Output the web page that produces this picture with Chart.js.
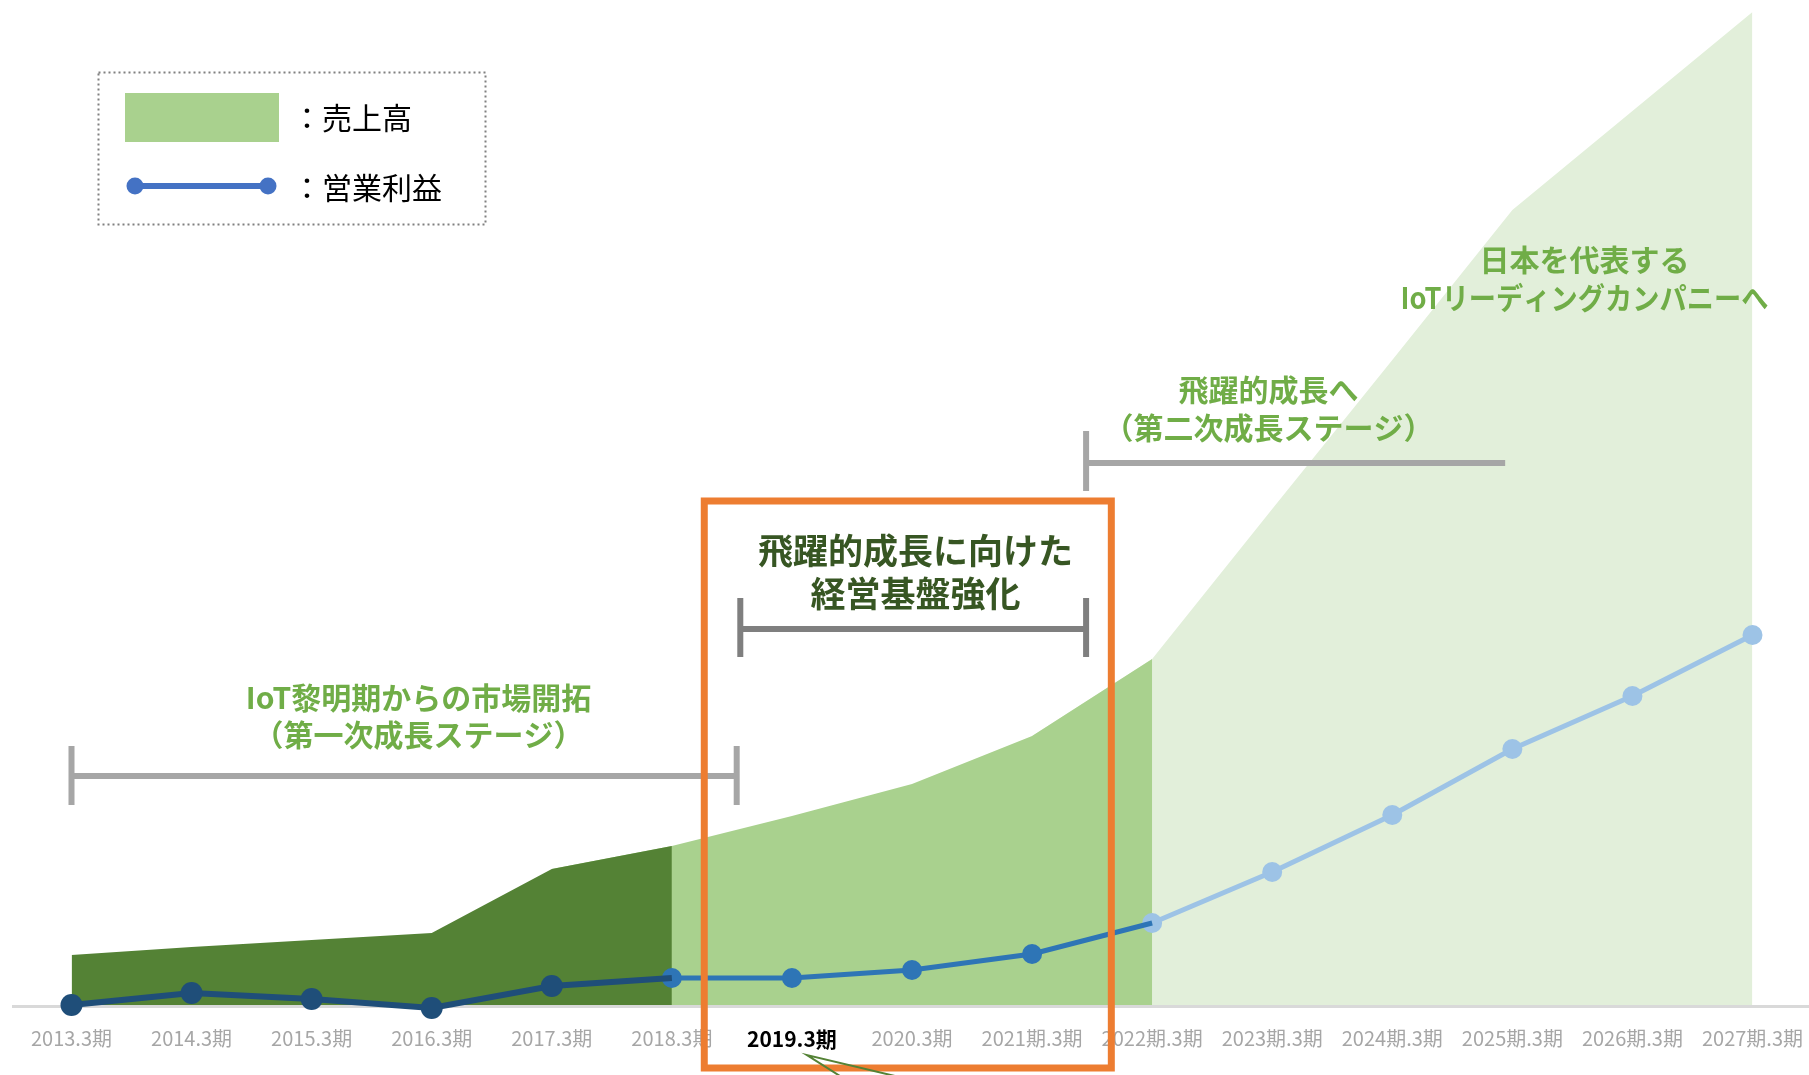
<!DOCTYPE html>
<html lang="ja">
<head>
<meta charset="utf-8">
<title>売上高・営業利益の推移</title>
<script src="https://cdn.jsdelivr.net/npm/chart.js@4.4.1/dist/chart.umd.min.js"></script>
<style>
  html, body { margin: 0; padding: 0; background: #fff; }
</style>
</head>
<body>
<canvas id="chart" width="1809" height="1075"></canvas>
<script>
const periods = [
  '2013.3期', '2014.3期', '2015.3期', '2016.3期', '2017.3期', '2018.3期', '2019.3期',
  '2020.3期', '2021期.3期', '2022期.3期', '2023期.3期', '2024期.3期', '2025期.3期',
  '2026期.3期', '2027期.3期'
];
const currentIndex = 6; // 2019.3期

// 売上高: 実績 / 中期計画 / 長期ビジョン
const salesActual = [5.0, 5.8, 6.5, 7.2, 13.6, 15.9];
const salesPlan = [15.9, 18.9, 22.1, 26.9, 34.6];
const salesVision = [34.6, 49.6, 64.5, 79.5, 89.4, 99.3];

// 営業利益: 実績 / 中期計画 / 長期ビジョン
const profitActual = [0.0, 1.2, 0.6, -0.3, 1.9, 2.7];
const profitPlan = [2.7, 2.7, 3.5, 5.1, 8.2];
const profitVision = [8.2, 13.3, 19.0, 25.6, 30.9, 37.0];

const JP = '"Noto Sans CJK JP", "Noto Sans", sans-serif';

// put a partial series into a full-length array
function place(values, start) {
  const out = periods.map(() => null);
  values.forEach((v, i) => { out[start + i] = v; });
  return out;
}

// each later band also runs one step underneath the previous one,
// so no hairline gap shows where two fills meet
function area(values, start, color, prev, order) {
  const vals = prev ? [prev[prev.length - 2], ...values] : values;
  return {
    type: 'line',
    data: place(vals, prev ? start - 1 : start),
    backgroundColor: color,
    borderWidth: 0,
    pointRadius: 0,
    fill: 'origin',
    tension: 0,
    clip: false,
    order
  };
}

function profitLine(values, start, color, width, radius, hideLast) {
  const lastIdx = start + values.length - 1;
  return {
    type: 'line',
    data: place(values, start),
    borderColor: color,
    backgroundColor: color,
    borderWidth: width,
    pointRadius: ctx => (hideLast && ctx.dataIndex === lastIdx) ? 0 : radius,
    pointBorderWidth: 0,
    pointBackgroundColor: color,
    fill: false,
    tension: 0,
    clip: false,
    order: 1
  };
}

// captions and brackets, placed in (category index, value) units
const stageTexts = [
  { x: 2.89, y: [30.7, 27.0], lines: ['IoT黎明期からの市場開拓', '（第一次成長ステージ）'], color: '#70ad47', size: 30 },
  { x: 7.03, y: [45.4, 41.1], lines: ['飛躍的成長に向けた', '経営基盤強化'], color: '#375623', size: 35 },
  { x: 9.97, y: [61.5, 57.7], lines: ['飛躍的成長へ', '（第二次成長ステージ）'], color: '#70ad47', size: 30 },
  { x: 12.6, y: [74.5, 70.7], lines: ['日本を代表する', 'IoTリーディングカンパニーへ'], color: '#70ad47', size: 30, maxWidth: 368 }
];
const brackets = [
  { from: 0.0, to: 5.54, y: 22.9, top: 25.9, bottom: 20.0, right: true, color: '#a6a6a6' },
  { from: 5.57, to: 8.45, y: 37.6, top: 40.7, bottom: 34.8, right: true, color: '#7f7f7f' },
  { from: 8.45, to: 11.94, y: 54.2, top: 57.4, bottom: 51.4, right: false, color: '#a6a6a6' }
];
const focusBox = { from: 5.27, to: 8.66, top: 50.4, bottom: -6.3 };

const overlay = {
  id: 'overlay',
  beforeDatasetsDraw(chart) {
    const { ctx, scales: { y } } = chart;
    const base = y.getPixelForValue(0);
    ctx.save();
    ctx.strokeStyle = '#d9d9d9';
    ctx.lineWidth = 3;
    ctx.beginPath();
    ctx.moveTo(12, base + 1.5);
    ctx.lineTo(chart.width, base + 1.5);
    ctx.stroke();
    ctx.restore();
  },
  afterDatasetsDraw(chart) {
    const { ctx, scales: { x, y } } = chart;
    const px = v => x.getPixelForValue(v);
    const py = v => y.getPixelForValue(v);
    ctx.save();

    // brackets
    ctx.lineCap = 'butt';
    brackets.forEach(b => {
      ctx.strokeStyle = b.color;
      ctx.lineWidth = 6;
      ctx.beginPath();
      ctx.moveTo(px(b.from), py(b.top));
      ctx.lineTo(px(b.from), py(b.bottom));
      ctx.moveTo(px(b.from), py(b.y));
      ctx.lineTo(px(b.to), py(b.y));
      if (b.right) {
        ctx.moveTo(px(b.to), py(b.top));
        ctx.lineTo(px(b.to), py(b.bottom));
      }
      ctx.stroke();
    });

    // stage captions
    ctx.textAlign = 'center';
    ctx.textBaseline = 'middle';
    stageTexts.forEach(t => {
      ctx.fillStyle = t.color;
      ctx.font = `bold ${t.size}px ${JP}`;
      t.lines.forEach((line, i) => {
        if (t.maxWidth) ctx.fillText(line, px(t.x), py(t.y[i]), t.maxWidth);
        else ctx.fillText(line, px(t.x), py(t.y[i]));
      });
    });

    // current-period frame
    ctx.strokeStyle = '#ed7d31';
    ctx.lineWidth = 7;
    ctx.strokeRect(px(focusBox.from), py(focusBox.top),
      px(focusBox.to) - px(focusBox.from), py(focusBox.bottom) - py(focusBox.top));

    // callout tail under 2019.3期
    const tipX = px(currentIndex) + 15, tipY = py(-5.0);
    ctx.strokeStyle = '#548235';
    ctx.lineWidth = 2;
    ctx.beginPath();
    ctx.moveTo(tipX + 33, tipY + 21);
    ctx.lineTo(tipX, tipY);
    ctx.lineTo(tipX + 88, tipY + 21);
    ctx.stroke();

    // legend
    ctx.setLineDash([2, 3]);
    ctx.strokeStyle = '#808080';
    ctx.lineWidth = 2;
    ctx.strokeRect(98.5, 72.5, 387, 152);
    ctx.setLineDash([]);
    ctx.fillStyle = '#a9d18e';
    ctx.fillRect(125, 93, 154, 49);
    ctx.strokeStyle = '#4472c4';
    ctx.fillStyle = '#4472c4';
    ctx.lineWidth = 6;
    ctx.beginPath();
    ctx.moveTo(135, 186);
    ctx.lineTo(268, 186);
    ctx.stroke();
    [135, 268].forEach(cx => {
      ctx.beginPath();
      ctx.arc(cx, 186, 8.5, 0, Math.PI * 2);
      ctx.fill();
    });
    ctx.fillStyle = '#000';
    ctx.font = `30px ${JP}`;
    ctx.textAlign = 'left';
    ctx.fillText('：売上高', 292, 118);
    ctx.fillText('：営業利益', 292, 188);

    ctx.restore();
  }
};

new Chart(document.getElementById('chart'), {
  type: 'line',
  data: {
    labels: periods,
    datasets: [
      profitLine(profitActual, 0, '#1f4e79', 6, 11, true),
      profitLine(profitPlan, 5, '#2e75b6', 5, 10, true),
      profitLine(profitVision, 9, '#9dc3e6', 5, 10, false),
      area(salesActual, 0, '#548235', null, 2),
      area(salesPlan, 5, '#a9d18e', salesActual, 3),
      area(salesVision, 9, '#e2efda', salesPlan, 4)
    ]
  },
  options: {
    responsive: false,
    animation: false,
    devicePixelRatio: 1,
    layout: { autoPadding: false, padding: { top: 5, left: 71.5, right: 56.5, bottom: 0 } },
    plugins: { legend: { display: false }, tooltip: { enabled: false } },
    scales: {
      x: {
        type: 'category',
        offset: false,
        // tick marks hidden, but their length keeps the labels below the baseline
        grid: { display: false, drawTicks: true, tickLength: 21 },
        border: { display: false },
        afterFit: scale => { scale.height = 70; },
        ticks: {
          autoSkip: false,
          maxRotation: 0,
          padding: 0,
          color: ctx => ctx.index === currentIndex ? '#000000' : '#a6a6a6',
          font: ctx => ctx.index === currentIndex
            ? { family: JP, size: 21, weight: 'bold' }
            : { family: JP, size: 20 }
        }
      },
      y: { display: false, min: 0, max: 100 }
    }
  },
  plugins: [overlay]
});
</script>
</body>
</html>
